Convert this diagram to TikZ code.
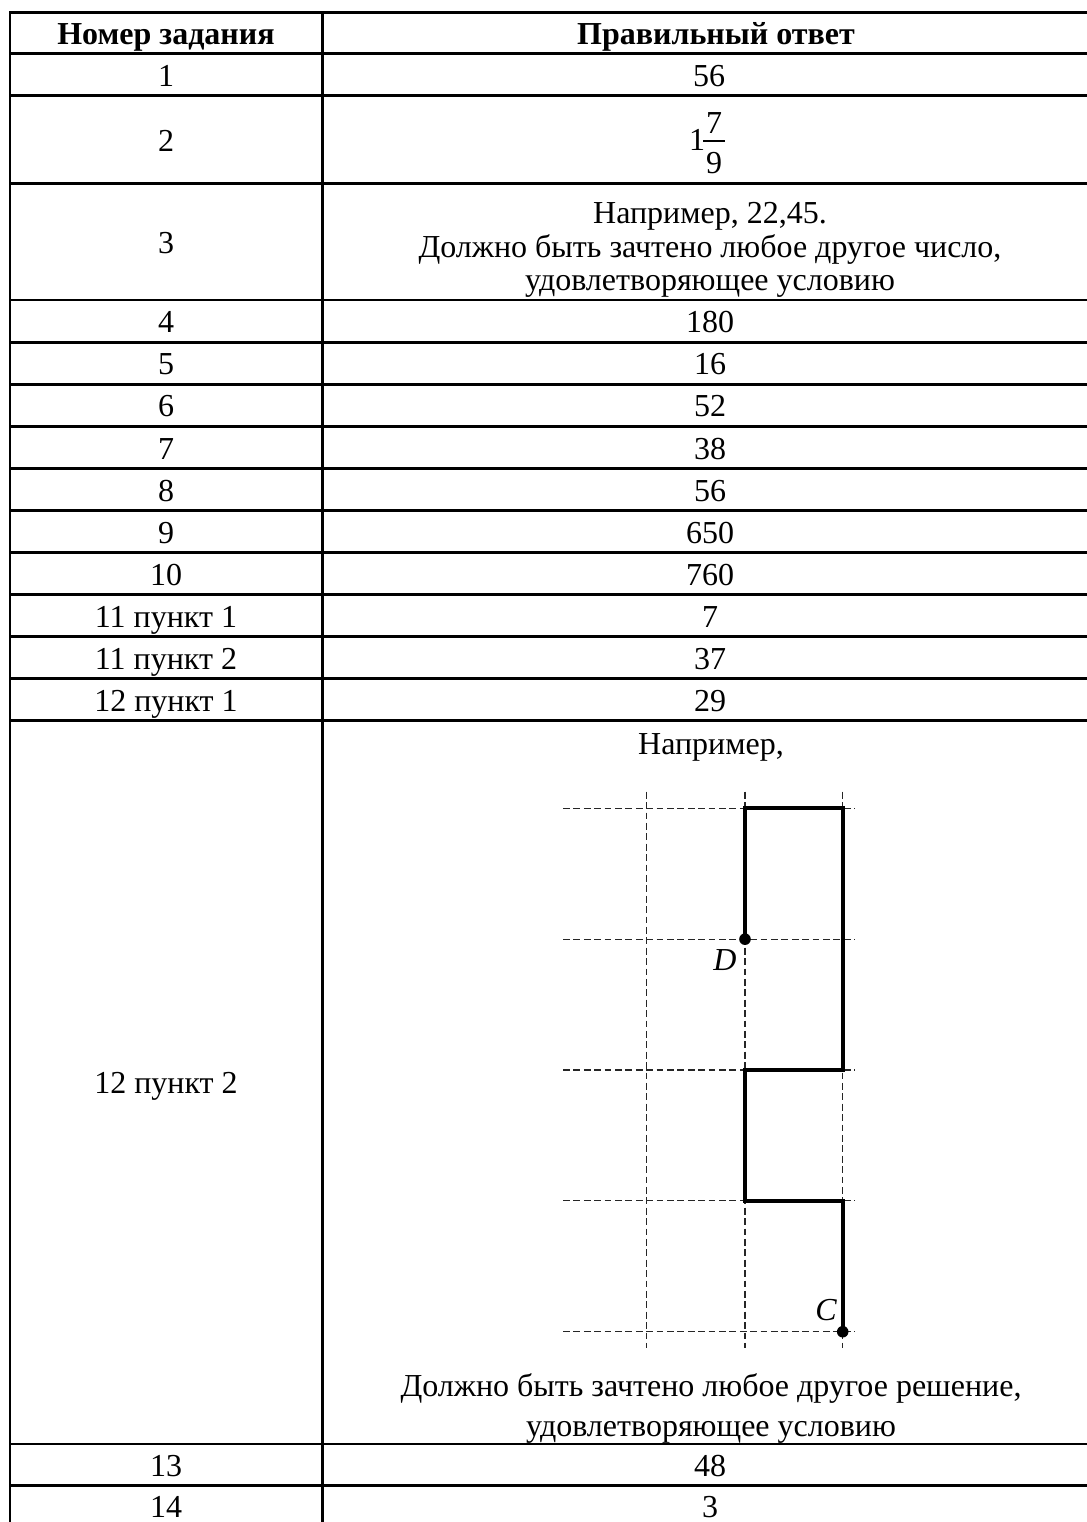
\documentclass[tikz,border=0pt]{standalone}
\usepackage{fontspec}
\setmainfont{Liberation Serif}
\begin{document}
\begin{tikzpicture}[x=0.5pt,y=-0.5pt,
  txt/.style={font=\fontsize{16}{19}\selectfont, inner sep=0pt, anchor=base},
  bold/.style={txt, font=\fontsize{16}{19}\selectfont\bfseries},
  ital/.style={txt, font=\fontsize{16}{19}\selectfont\itshape},
  rule/.style={line width=1.4pt, line cap=rect},
  gridline/.style={line width=0.6pt, dash pattern=on 3.4pt off 1.8pt, black!85},
  route/.style={line width=2pt, line join=miter},
  dot/.style={circle, fill=black, inner sep=0pt, minimum size=5.8pt}]
\useasboundingbox (0,0) rectangle (1087,1522);
\clip (0,0) rectangle (1087,1522);
\fill[white] (0,0) rectangle (1087,1522);
% table rules
\foreach \y in {12.3,53.5,95.7,183.5,300,342.1,384.1,426.2,468.3,510.4,552.4,594.5,636.6,678.6,720.7,1444,1485.7}
  \draw[rule] (10,\y) -- (1095,\y);
\draw[rule] (10,12.3) -- (10,1535);
\draw[rule] (322.7,12.3) -- (322.7,1535);
% header
\node[bold] (h1) at (166,44.5) {Номер задания};
\node[bold] (h2) at (716,44.5) {Правильный ответ};
% column 1
\node[txt] (a1) at (166,86.5) {1};
\node[txt] (a2) at (166,151.7) {2};
\node[txt] (a3) at (166,253.8) {3};
\node[txt] (a4) at (166,332.8) {4};
\node[txt] (a5) at (166,374.8) {5};
\node[txt] (a6) at (166,416.9) {6};
\node[txt] (a7) at (166,459) {7};
\node[txt] (a8) at (166,501.1) {8};
\node[txt] (a9) at (166,543.1) {9};
\node[txt] (a10) at (166,585.2) {10};
\node[txt] (a11a) at (166,627.1) {11 пункт 1};
\node[txt] (a11b) at (166,669.3) {11 пункт 2};
\node[txt] (a12a) at (166,711.4) {12 пункт 1};
\node[txt] (a12b) at (166,1093) {12 пункт 2};
\node[txt] (a13) at (166,1476.4) {13};
\node[txt] (a14) at (166,1517) {14};
% column 2
\node[txt] (b1) at (709,86.5) {56};
\node[txt] (b2int) at (697,150.7) {1};
\node[txt] (b2num) at (714,133.3) {7};
\node[txt] (b2den) at (714,173.3) {9};
\draw[line width=1pt] (703,141.3) -- (725,141.3);
\node[txt] (b3a) at (710,223.3) {Например, 22,45.};
\node[txt] (b3b) at (710,257.3) {Должно быть зачтено любое другое число,};
\node[txt] (b3c) at (710,290) {удовлетворяющее условию};
\node[txt] (b4) at (710,332.8) {180};
\node[txt] (b5) at (710,374.8) {16};
\node[txt] (b6) at (710,416.9) {52};
\node[txt] (b7) at (710,459) {38};
\node[txt] (b8) at (710,501.1) {56};
\node[txt] (b9) at (710,543.1) {650};
\node[txt] (b10) at (710,585.2) {760};
\node[txt] (b11a) at (710,627.1) {7};
\node[txt] (b11b) at (710,669.3) {37};
\node[txt] (b12a) at (710,711.4) {29};
\node[txt] (b12top) at (711,754.3) {Например,};
\node[txt] (b12c) at (711,1396.7) {Должно быть зачтено любое другое решение,};
\node[txt] (b12d) at (711,1436.7) {удовлетворяющее условию};
\node[txt] (b13) at (710,1476.4) {48};
\node[txt] (b14) at (710,1517) {3};
% grid
\foreach \y in {808.3,939.15,1070,1200.85,1331.7}
  \draw[gridline] (563,\y) -- (855,\y);
\foreach \x in {646.7,745,842.7}
  \draw[gridline] (\x,791.7) -- (\x,1348.3);
% route
\coordinate (D) at (745,939.15);
\coordinate (C) at (842.7,1331.7);
\draw[route] (D) -- (745,808.3) -- (842.7,808.3) -- (842.7,1070) -- (745,1070) -- (745,1200.85) -- (842.7,1200.85) -- (C);
\node[dot] (Ddot) at (D) {};
\node[dot] (Cdot) at (C) {};
\node[ital] (Dlab) at (725,970) {D};
\node[ital] (Clab) at (826,1320.7) {C};
\end{tikzpicture}
\end{document}
